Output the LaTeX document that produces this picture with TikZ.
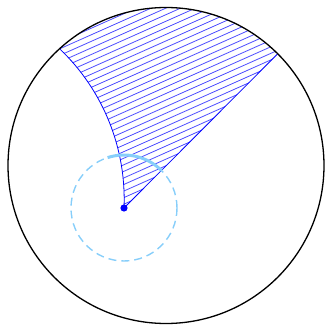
\documentclass[tikz,border=0pt]{standalone}
\usetikzlibrary{calc}
\definecolor{lsky}{RGB}{135,206,250}
\tikzset{
  bigcirc/.style={draw=black,line width=1.3pt},
  edgeline/.style={draw=blue,line width=0.8pt},
  hatchline/.style={draw=blue!70,line width=0.8pt},
  smallcirc/.style={draw=lsky,line width=1.4pt,dash pattern=on 8pt off 5pt},
  thickarc/.style={draw=lsky,line width=3pt},
}
\begin{document}
\begin{tikzpicture}[x=1pt,y=1pt]
\useasboundingbox (0,0) rectangle (325,325);
\coordinate (O) at (166,159.5);
\coordinate (P) at (124,117);
\coordinate (E) at ($(O)+(45:158pt)$);
% hatched region
\begin{scope}
\clip (P) arc[start angle=-2.4,end angle=46.3,radius=207.8pt] -- ($(O)+(132.2:158pt)$) arc[start angle=132.2,end angle=45,radius=158pt] -- cycle;
\begin{scope}[rotate=24]
\foreach \i in {0,...,40} {\draw[hatchline] (100,{30+\i*6}) -- (420,{30+\i*6});}
\end{scope}
\end{scope}
\draw[edgeline] (P) arc[start angle=-2.4,end angle=46.3,radius=207.8pt];
\draw[edgeline] (P) -- (E);
\draw[smallcirc] (P) circle[radius=53pt];
\draw[thickarc] ($(P)+(45:53pt)$) arc[start angle=45,end angle=108,radius=53pt];
\draw[bigcirc] (O) circle[radius=158pt];
\fill[blue] (P) circle[radius=3.6pt];
\end{tikzpicture}
\end{document}
